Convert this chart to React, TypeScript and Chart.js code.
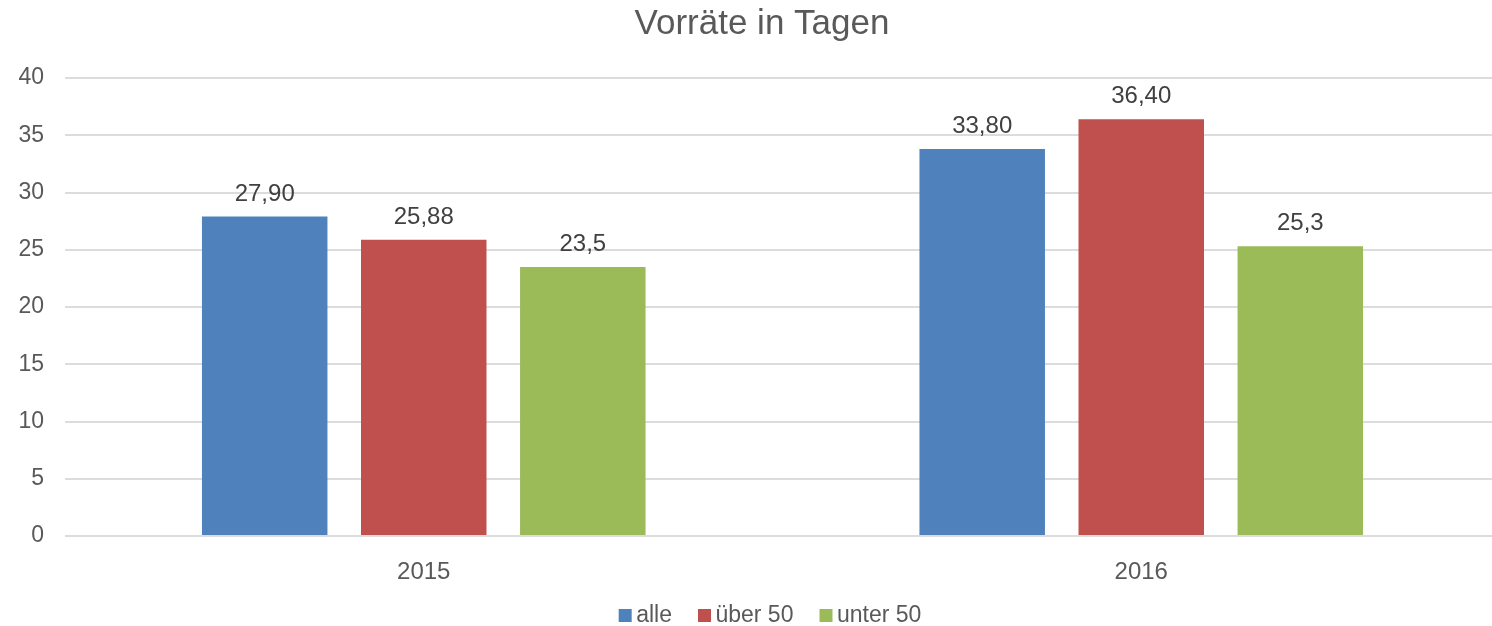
import React, { useEffect, useRef } from 'react';
import { Chart, registerables } from 'chart.js';

Chart.register(...registerables);

const categories = ['2015', '2016'];
const seriesNames = ['alle', 'über 50', 'unter 50'];
const alleValues = [27.9, 33.8];
const ueber50Values = [25.88, 36.4];
const unter50Values = [23.5, 25.3];
const alleLabels = ['27,90', '33,80'];
const ueber50Labels = ['25,88', '36,40'];
const unter50Labels = ['23,5', '25,3'];
const seriesColors = ['#4F81BD', '#C0504D', '#9BBB59'];
const titleText = 'Vorräte in Tagen';
const yMin = 0;
const yMax = 40;
const yStep = 5;

const FONT = '"Liberation Sans", Arial, sans-serif';

export default function App() {
  const ref = useRef<HTMLCanvasElement>(null);

  useEffect(() => {
    document.body.style.margin = '0';
    const canvas = ref.current;
    if (!canvas) return;

    const makeBox = (color: string) => {
      const c = document.createElement('canvas');
      c.width = 60;
      c.height = 13;
      const g = c.getContext('2d');
      if (g) {
        g.fillStyle = color;
        g.fillRect(35, 0, 13, 13);
      }
      return c;
    };
    const boxes = seriesColors.map(makeBox);
    const valueLabels = [alleLabels, ueber50Labels, unter50Labels];

    const dataLabelPlugin = {
      id: 'dataLabels',
      afterDatasetsDraw(chart: any) {
        const ctx = chart.ctx;
        ctx.save();
        ctx.font = `24px ${FONT}`;
        ctx.fillStyle = '#404040';
        ctx.textAlign = 'center';
        ctx.textBaseline = 'alphabetic';
        chart.data.datasets.forEach((_ds: any, di: number) => {
          const meta = chart.getDatasetMeta(di);
          meta.data.forEach((el: any, i: number) => {
            ctx.fillText(valueLabels[di][i], el.x, el.y - 16);
          });
        });
        ctx.restore();
      },
    };

    const chart = new Chart(canvas, {
      type: 'bar',
      data: {
        labels: categories,
        datasets: [
          { label: seriesNames[0], data: alleValues, backgroundColor: seriesColors[0] },
          { label: seriesNames[1], data: ueber50Values, backgroundColor: seriesColors[1] },
          { label: seriesNames[2], data: unter50Values, backgroundColor: seriesColors[2] },
        ],
      },
      options: {
        responsive: false,
        maintainAspectRatio: false,
        animation: false,
        devicePixelRatio: 1,
        categoryPercentage: 0.665,
        barPercentage: 0.789,
        layout: { padding: { left: 24, right: 24, top: 0, bottom: 0 } },
        plugins: {
          tooltip: { enabled: false },
          title: {
            display: true,
            text: titleText,
            color: '#595959',
            font: { family: FONT, size: 35, weight: 'normal' },
            padding: { top: 3, bottom: 33 },
          },
          legend: {
            position: 'bottom',
            labels: {
              usePointStyle: true,
              pointStyleWidth: 22,
              padding: 10,
              color: '#595959',
              font: { family: FONT, size: 23 },
              generateLabels: (ch: any) =>
                Chart.defaults.plugins.legend.labels
                  .generateLabels(ch)
                  .map((l: any, i: number) => ({ ...l, pointStyle: boxes[i] })),
            },
          },
        },
        scales: {
          x: {
            grid: { display: false },
            border: { display: false },
            ticks: { color: '#595959', font: { family: FONT, size: 24 }, padding: 14 },
            afterFit: (s: any) => {
              s.height = 58;
            },
          },
          y: {
            min: yMin,
            max: yMax,
            ticks: { stepSize: yStep, color: '#595959', font: { family: FONT, size: 23 }, padding: 21 },
            grid: { color: '#dcdcdc', lineWidth: 2, drawTicks: false },
            border: { display: false },
            afterFit: (s: any) => {
              s.width = 41;
              s._computeLabelArea = () => undefined;
            },
          },
        },
      } as any,
      plugins: [dataLabelPlugin],
    });

    return () => chart.destroy();
  }, []);

  return (
    <div style={{ width: 1492, height: 626, overflow: 'hidden', position: 'relative' }}>
      <canvas ref={ref} width={1524} height={637} style={{ display: 'block' }} />
    </div>
  );
}
